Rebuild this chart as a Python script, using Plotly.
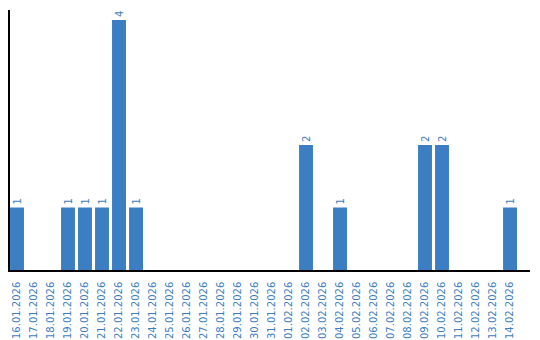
import plotly.graph_objects as go

dates = ["16.01.2026", "17.01.2026", "18.01.2026", "19.01.2026", "20.01.2026",
         "21.01.2026", "22.01.2026", "23.01.2026", "24.01.2026", "25.01.2026",
         "26.01.2026", "27.01.2026", "28.01.2026", "29.01.2026", "30.01.2026",
         "31.01.2026", "01.02.2026", "02.02.2026", "03.02.2026", "04.02.2026",
         "05.02.2026", "06.02.2026", "07.02.2026", "08.02.2026", "09.02.2026",
         "10.02.2026", "11.02.2026", "12.02.2026", "13.02.2026", "14.02.2026"]
counts = [1, 0, 0, 1, 1, 1, 4, 1, 0, 0,
          0, 0, 0, 0, 0, 0, 0, 2, 0, 1,
          0, 0, 0, 0, 2, 2, 0, 0, 0, 1]

labels = [str(v) if v else "" for v in counts]

blue = "#3b7ec2"

fig = go.Figure(go.Bar(
    x=dates, y=counts, text=labels,
    textposition="outside", textangle=-90,
    textfont=dict(family="DejaVu Sans", size=10, color=blue),
    marker=dict(color=blue, line=dict(width=0)),
    cliponaxis=False,
))

fig.update_layout(
    width=540, height=340,
    margin=dict(l=10, r=10, t=10, b=70),
    paper_bgcolor="white", plot_bgcolor="white",
    bargap=0.18, showlegend=False,
    uniformtext=dict(mode=False),
)
fig.update_xaxes(
    type="category", range=[-0.412, 30.176], automargin=False,
    showline=True, linecolor="black", linewidth=1.5,
    showgrid=False, ticks="", tickangle=-90, ticklabelstandoff=6,
    tickfont=dict(family="DejaVu Sans", size=10, color=blue),
)
fig.update_yaxes(
    range=[0, 4.16], automargin=False,
    showline=True, linecolor="black", linewidth=1.5,
    showgrid=False, showticklabels=False, ticks="", zeroline=False,
)

fig.write_html("out.html")
